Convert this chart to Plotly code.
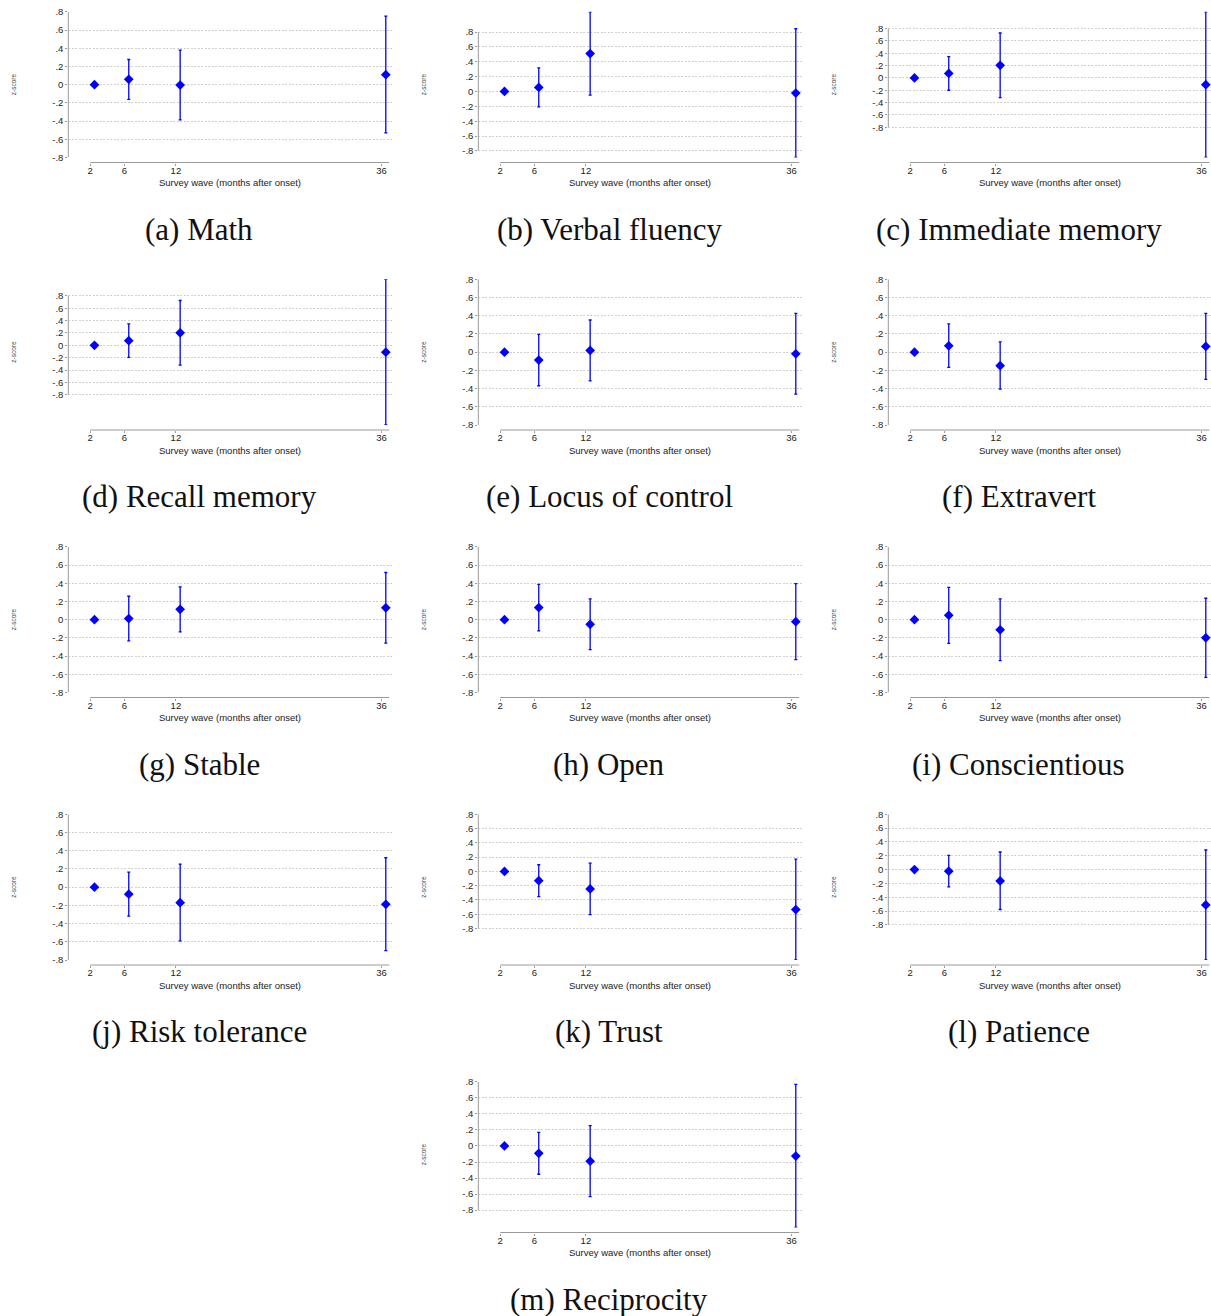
import plotly.graph_objects as go

# ---------------- data ----------------
waves = [2, 6, 12, 36]
wave_labels = ["2", "6", "12", "36"]
marker_offset = 0.5
ytick_vals = [-0.8, -0.6, -0.4, -0.2, 0, 0.2, 0.4, 0.6, 0.8]
ytick_text = ["-.8", "-.6", "-.4", "-.2", "0", ".2", ".4", ".6", ".8"]

captions = ["(a) Math", "(b) Verbal fluency", "(c) Immediate memory",
            "(d) Recall memory", "(e) Locus of control", "(f) Extravert",
            "(g) Stable", "(h) Open", "(i) Conscientious",
            "(j) Risk tolerance", "(k) Trust", "(l) Patience",
            "(m) Reciprocity"]

math_est = [0, 0.058, -0.004, 0.11]
math_lo = [0, -0.162, -0.386, -0.53]
math_hi = [0, 0.276, 0.379, 0.752]

verbal_est = [0, 0.055, 0.51, -0.022]
verbal_lo = [0, -0.206, -0.05, -0.889]
verbal_hi = [0, 0.317, 1.073, 0.845]

immediate_est = [0, 0.073, 0.204, -0.109]
immediate_lo = [0, -0.2, -0.32, -1.29]
immediate_hi = [0, 0.346, 0.728, 1.072]

recall_est = [0, 0.075, 0.202, -0.11]
recall_lo = [0, -0.195, -0.32, -1.285]
recall_hi = [0, 0.347, 0.724, 1.066]

locus_est = [0, -0.087, 0.019, -0.018]
locus_lo = [0, -0.369, -0.315, -0.46]
locus_hi = [0, 0.196, 0.353, 0.425]

extravert_est = [0, 0.07, -0.148, 0.063]
extravert_lo = [0, -0.168, -0.405, -0.3]
extravert_hi = [0, 0.31, 0.112, 0.426]

stable_est = [0, 0.012, 0.114, 0.13]
stable_lo = [0, -0.232, -0.134, -0.257]
stable_hi = [0, 0.257, 0.359, 0.518]

open_est = [0, 0.133, -0.051, -0.022]
open_lo = [0, -0.123, -0.329, -0.438]
open_hi = [0, 0.387, 0.228, 0.395]

consc_est = [0, 0.047, -0.111, -0.199]
consc_lo = [0, -0.261, -0.449, -0.633]
consc_hi = [0, 0.355, 0.228, 0.235]

risk_est = [0, -0.077, -0.17, -0.188]
risk_lo = [0, -0.319, -0.591, -0.697]
risk_hi = [0, 0.165, 0.253, 0.323]

trust_est = [0, -0.13, -0.246, -0.535]
trust_lo = [0, -0.353, -0.605, -1.242]
trust_hi = [0, 0.093, 0.116, 0.172]

patience_est = [0, -0.022, -0.163, -0.511]
patience_lo = [0, -0.25, -0.577, -1.307]
patience_hi = [0, 0.207, 0.255, 0.284]

recip_est = [0, -0.091, -0.189, -0.125]
recip_lo = [0, -0.352, -0.63, -1.016]
recip_hi = [0, 0.17, 0.253, 0.767]

panels = [
    (math_est, math_lo, math_hi), (verbal_est, verbal_lo, verbal_hi),
    (immediate_est, immediate_lo, immediate_hi), (recall_est, recall_lo, recall_hi),
    (locus_est, locus_lo, locus_hi), (extravert_est, extravert_lo, extravert_hi),
    (stable_est, stable_lo, stable_hi), (open_est, open_lo, open_hi),
    (consc_est, consc_lo, consc_hi), (risk_est, risk_lo, risk_hi),
    (trust_est, trust_lo, trust_hi), (patience_est, patience_lo, patience_hi),
    (recip_est, recip_lo, recip_hi),
]
grid_pos = [(0, 0), (0, 1), (0, 2), (1, 0), (1, 1), (1, 2), (2, 0), (2, 1), (2, 2),
            (3, 0), (3, 1), (3, 2), (4, 1)]

# ---------------- geometry / style ----------------
W, H = 1211, 1316
COL_W, ROW_H = 410, 267.5
PX_LEFT, PX_RIGHT = 68.3, 392.0      # plot region (local px)
PX_TOP, PX_BOT = 11.8, 157.5
PX_XAXIS = 162.5
PX_TICK2, PX_PER_UNIT = 90.2, 8.568

BLUE = "#0000ff"
AXIS_COL = "#9a9a9a"
GRID_COL = "#d0d0d0"
SANS = "Liberation Sans, Arial, sans-serif"
SERIF = "Liberation Serif, Times New Roman, serif"

fig = go.Figure()
layout = dict(width=W, height=H,
              margin=dict(l=0, r=0, t=0, b=0, pad=0, autoexpand=False),
              paper_bgcolor="white", plot_bgcolor="white", showlegend=False)
shapes, annotations = [], []

for i, ((est, lo, hi), (r, c)) in enumerate(zip(panels, grid_pos), start=1):
    sfx = "" if i == 1 else str(i)
    xa, ya = "x" + sfx, "y" + sfx
    ox, oy = c * COL_W, r * ROW_H
    right_px = min(ox + PX_RIGHT, W - 0.5)
    x_dom = [(ox + PX_LEFT) / W, right_px / W]
    x_range = [waves[0] - (PX_TICK2 - PX_LEFT) / PX_PER_UNIT,
               waves[0] + (right_px - ox - PX_TICK2) / PX_PER_UNIT]
    y_dom = [1 - (oy + PX_BOT) / H, 1 - (oy + PX_TOP) / H]
    y_range = [min(-0.8, min(lo)), max(0.8, max(hi))]
    x_pos = 1 - (oy + PX_XAXIS) / H

    layout["xaxis" + sfx] = dict(
        domain=x_dom, range=x_range, anchor="free", position=x_pos,
        tickvals=waves, ticktext=wave_labels, ticks="outside", ticklen=2,
        tickcolor=AXIS_COL, tickwidth=1, showline=False, showgrid=False,
        ticklabelstandoff=-3, automargin=False,
        zeroline=False, tickfont=dict(family=SANS, size=9.5, color="#222"),
        fixedrange=True)
    layout["yaxis" + sfx] = dict(
        domain=y_dom, range=y_range, anchor=xa, automargin=False,
        tickvals=ytick_vals, ticktext=ytick_text, ticks="outside", ticklen=2,
        tickcolor=AXIS_COL, tickwidth=1, showline=False, showgrid=True,
        gridcolor=GRID_COL, griddash="2px,1.5px", gridwidth=1, zeroline=False,
        tickfont=dict(family=SANS, size=9.5, color="#222"), fixedrange=True)

    fig.add_trace(go.Scatter(
        x=[w + marker_offset for w in waves], y=est, mode="markers",
        marker=dict(symbol="diamond", size=7.5, color=BLUE),
        error_y=dict(type="data", symmetric=False,
                     array=[h - e for h, e in zip(hi, est)],
                     arrayminus=[e - l for e, l in zip(est, lo)],
                     color=BLUE, thickness=1.3, width=1.5),
        xaxis=xa, yaxis=ya, cliponaxis=False, hoverinfo="skip"))

    # Stata-style axis lines (y line spans the labelled ticks, x line spans the waves)
    shapes.append(dict(type="line", xref=xa + " domain", x0=0, x1=0,
                       yref=ya, y0=ytick_vals[0], y1=ytick_vals[-1],
                       line=dict(color=AXIS_COL, width=1)))
    shapes.append(dict(type="line", xref=xa, x0=waves[0], x1=waves[-1] + 0.9,
                       yref="paper", y0=x_pos, y1=x_pos,
                       line=dict(color=AXIS_COL, width=1)))

    annotations.append(dict(text="z-score", textangle=-90, showarrow=False,
                            xref="paper", yref="paper",
                            x=(ox + 13.5) / W, y=1 - (oy + 84.7) / H,
                            xanchor="center", yanchor="middle",
                            font=dict(family=SANS, size=6.5, color="#444")))
    annotations.append(dict(text="Survey wave (months after onset)", showarrow=False,
                            xref="paper", yref="paper",
                            x=(ox + 230) / W, y=1 - (oy + 182.7) / H,
                            xanchor="center", yanchor="middle",
                            font=dict(family=SANS, size=9.5, color="#222")))
    annotations.append(dict(text=captions[i - 1], showarrow=False,
                            xref="paper", yref="paper",
                            x=(ox + 199) / W, y=1 - (oy + 229) / H,
                            xanchor="center", yanchor="middle",
                            font=dict(family=SERIF, size=31, color="#111")))

layout["shapes"] = shapes
layout["annotations"] = annotations
fig.update_layout(**layout)
fig.write_html("out.html", config={"displayModeBar": False},
               post_script="document.body.style.margin='0px';"
                           "document.body.style.overflow='hidden';")
